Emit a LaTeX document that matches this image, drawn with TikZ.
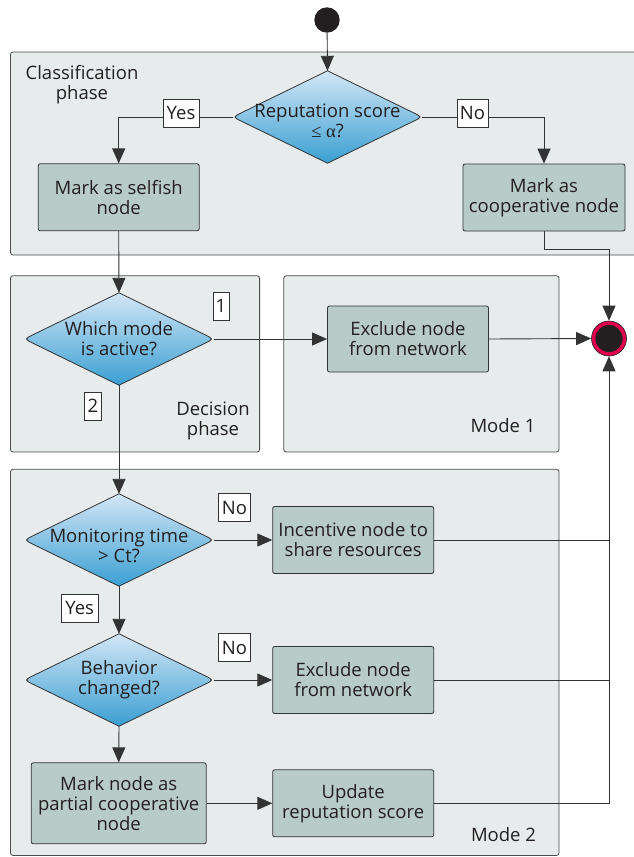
\documentclass[tikz,border=0pt]{standalone}
\usepackage{fontspec}
\setmainfont{Open Sans}
\newfontfamily\serfont{Liberation Serif}
\usetikzlibrary{arrows.meta,calc,shapes.geometric}
\definecolor{contfill}{HTML}{E7EBEB}
\definecolor{contdraw}{HTML}{4A4A4A}
\definecolor{procfill}{HTML}{B8CBC6}
\definecolor{linec}{HTML}{333333}
\definecolor{txtc}{HTML}{231F20}
\definecolor{dtop}{HTML}{D3E6F6}
\definecolor{dmid}{HTML}{A8D0EE}
\definecolor{dbot}{HTML}{3A9FD2}
\definecolor{endred}{HTML}{E2004F}
\pgfdeclarelayer{cont}
\pgfdeclarelayer{conn}
\pgfdeclarelayer{dia}
\pgfsetlayers{cont,conn,dia,main}
\newcommand\normfont{\fontsize{18.5}{20}\selectfont}
\newcommand\lowr[1]{\rule{0pt}{#1}}
\newcommand\dshape[1]{%
  \draw[dstyle] (#1.north) -- ($(#1.east)+(-9,-4.4)$) .. controls (#1.east) .. ($(#1.east)+(-9,4.4)$)
    -- (#1.south) -- ($(#1.west)+(9,4.4)$) .. controls (#1.west) .. ($(#1.west)+(9,-4.4)$) -- cycle;}
\tikzset{
  container/.style={draw=contdraw, fill=contfill, line width=0.8pt, rounded corners=2.5pt},
  proc/.style={draw=linec, fill=procfill, line width=0.8pt, rounded corners=2pt, align=center,
    minimum width=161pt, minimum height=67pt, inner sep=1pt, text=txtc, font=\normfont},
  dtext/.style={draw=none, minimum width=189pt, minimum height=92pt, inner sep=0pt, align=center, text=txtc, font=\normfont},
  dstyle/.style={draw=linec, line width=0.8pt, top color=dtop, middle color=dmid, bottom color=dbot},
  lab/.style={draw=linec, fill=white, line width=0.7pt, minimum height=28pt, inner sep=1pt, text=txtc, font=\normfont},
  ctext/.style={align=center, text=txtc, font=\normfont, inner sep=0pt},
  conn/.style={draw=linec, line width=0.9pt},
  arr/.style={conn, -{Triangle[length=15pt,width=13pt]}},
}
\begin{document}
\begin{tikzpicture}[x=1pt,y=-1pt]
\useasboundingbox (0,0) rectangle (633,857);
% containers
\begin{pgfonlayer}{cont}
\draw[container] (10.5,52) rectangle (648,255);
\draw[container] (10.5,275.7) rectangle (259.6,452);
\draw[container] (283.8,275.7) rectangle (559,452);
\draw[container] (10.5,469.3) rectangle (559,855.5);
\end{pgfonlayer}
\node[ctext] (tclass) at (82,84.5) {Classification\\phase};
\node[ctext] (tdec) at (213,421) {Decision\\phase};
\node[ctext] (tm1) at (503,425.7) {Mode 1};
\node[ctext] (tm2) at (503.5,835) {Mode 2};
% start / end
\node[circle, fill=txtc, minimum size=25.4pt, inner sep=0pt] (start) at (327,20) {};
\node[circle, draw=txtc, line width=0.6pt, fill=endred, minimum size=35pt, inner sep=0pt] (end) at (609,338.5) {};
\fill[txtc] (end.center) circle (13.6pt);
% diamonds
\node[dtext] (rep) at (327.5,117) {\lowr{22pt}Reputation score\\{\serfont ≤ α}?};
\node[dtext] (which) at (119,339) {Which mode\\is active?};
\node[dtext] (mon) at (119,540) {\lowr{25pt}Monitoring time\\> Ct?};
\node[dtext] (beh) at (119,680) {Behavior\\changed?};
\begin{pgfonlayer}{dia}
\dshape{rep}
\dshape{which}
\dshape{mon}
\dshape{beh}
\end{pgfonlayer}
% process boxes
\node[proc] (selfish) at (118.7,197.3) {Mark as selfish\\node};
\node[proc, minimum width=162pt] (coop) at (544,197.5) {Mark as\\cooperative node};
\node[proc, minimum height=66pt] (excl1) at (408,339) {Exclude node\\from network};
\node[proc] (inc) at (353.2,540) {Incentive node to\\share resources};
\node[proc] (excl2) at (353.2,680) {Exclude node\\from network};
\node[proc] (upd) at (353.2,803.3) {Update\\reputation score};
\node[proc, minimum width=175pt, minimum height=81pt] (partial) at (118.7,803.3) {Mark node as\\partial cooperative\\node};
% connectors
\begin{pgfonlayer}{conn}
\draw[arr] (start) -- (rep.north);
\draw[arr] (rep.west) -| (selfish.north);
\draw[arr] (rep.east) -| (coop.north);
\draw[arr] (coop.south) -- ++(0,18) -| (end.north);
\draw[arr] (selfish.south) -- (which.north);
\draw[arr] (which.east) -- (excl1.west);
\draw[arr] (excl1.east) -- (end.west);
\draw[arr] (which.south) -- (mon.north);
\draw[arr] (mon.east) -- (inc.west);
\draw[arr] (mon.south) -- (beh.north);
\draw[arr] (beh.east) -- (excl2.west);
\draw[arr] (beh.south) -- (partial.north);
\draw[arr] (partial.east) -- (upd.west);
\draw[arr] (upd.east) -| (end.south);
\draw[conn] (inc.east) -- (inc.east -| end.south);
\draw[conn] (excl2.east) -- (excl2.east -| end.south);
\end{pgfonlayer}
% labels
\node[lab, minimum width=36pt] (lyes1) at (181,113) {Yes};
\node[lab, minimum width=31pt] (lno1) at (472.5,113) {No};
\node[lab, minimum width=16pt] (l1) at (221,306) {1};
\node[lab, minimum width=16.5pt] (l2) at (93,406) {2};
\node[lab, minimum width=32pt] (lno2) at (234.4,507.7) {No};
\node[lab, minimum width=32pt] (lno3) at (234.4,647.5) {No};
\node[lab, minimum width=36.6pt] (lyes2) at (79.7,608) {Yes};
\end{tikzpicture}
\end{document}
